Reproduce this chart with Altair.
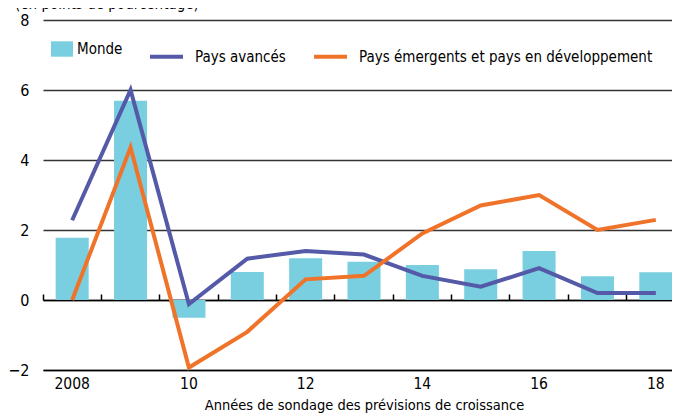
import altair as alt
import pandas as pd

years = ["2008", "2009", "2010", "2011", "2012", "2013", "2014", "2015", "2016", "2017", "2018"]
monde = [1.78, 5.69, -0.51, 0.80, 1.19, 1.09, 1.00, 0.88, 1.40, 0.68, 0.79]
avances = [2.28, 6.0, -0.12, 1.18, 1.40, 1.30, 0.69, 0.38, 0.91, 0.20, 0.20]
emergents = [0.0, 4.36, -1.93, -0.91, 0.59, 0.69, 1.90, 2.70, 3.00, 2.00, 2.29]

bar_series = ["Monde"]
line_series = ["Pays avancés", "Pays émergents et pays en développement"]
bar_color = ["#79CFDF"]
line_colors = ["#5459A8", "#F0732A"]
tick_years = ["2008", "2010", "2012", "2014", "2016", "2018"]

FONT = "DejaVu Sans Condensed"

df_bar = pd.DataFrame({"year": years, "value": monde, "serie": "Monde"})
df_lines = pd.concat([
    pd.DataFrame({"year": years, "value": avances, "serie": line_series[0]}),
    pd.DataFrame({"year": years, "value": emergents, "serie": line_series[1]}),
])

xscale = alt.Scale(type="band", paddingInner=0, paddingOuter=0, domain=years)
yscale = alt.Scale(domain=[-2, 8], nice=False, zero=False)
yaxis = alt.Axis(values=[-2, 0, 2, 4, 6, 8], grid=True, gridColor="#333333", gridWidth=1.3,
                 domain=False, ticks=False, labelPadding=14, labelFontSize=16, title=None)

bars = alt.Chart(df_bar).mark_bar(width={"band": 0.566}).encode(
    x=alt.X("year:O", scale=xscale, axis=alt.Axis(
        orient="bottom", values=tick_years,
        labelExpr="datum.label == '2008' ? '2008' : substring(datum.label, 2, 4)",
        ticks=False, grid=False, labelAngle=0, domainColor="black", domainWidth=1.5,
        labelFontSize=15.5, labelPadding=6, title="Années de sondage des prévisions de croissance",
        titleFontSize=14.5, titleFontWeight="normal", titlePadding=7)),
    y=alt.Y("value:Q", scale=yscale, axis=yaxis),
    fill=alt.Fill("serie:N", scale=alt.Scale(domain=bar_series, range=bar_color),
                  legend=alt.Legend(orient="none", legendX=8, legendY=18, title=None,
                                    symbolType="M-1,-0.7H1V0.7H-1Z", symbolSize=484,
                                    symbolStrokeWidth=0, labelFontSize=15, labelOffset=4,
                                    padding=0)),
)

lines = alt.Chart(df_lines).mark_line(strokeWidth=4).encode(
    x=alt.X("year:O", scale=xscale, axis=alt.Axis(
        orient="top", offset=-280, labels=False, title=None, ticks=True, tickSize=6,
        tickColor="black", tickWidth=1.5, domainColor="black", domainWidth=1.5,
        bandPosition=0, grid=False)),
    y=alt.Y("value:Q", scale=yscale, axis=yaxis),
    stroke=alt.Stroke("serie:N", scale=alt.Scale(domain=line_series, range=line_colors),
                      legend=alt.Legend(orient="none", direction="horizontal", legendX=105,
                                        legendY=18, title=None, symbolType="stroke",
                                        symbolSize=1089, symbolStrokeWidth=4, labelOffset=10,
                                        columnPadding=20, labelFontSize=15, labelLimit=400,
                                        padding=0)),
)

chart = alt.layer(bars, lines).resolve_axis(x="independent").properties(
    width=642, height=350,
    autosize=alt.AutoSizeParams(type="none"),
    padding={"left": 35, "top": 12, "right": -13, "bottom": 43},
    title=alt.TitleParams("(en points de pourcentage)", anchor="start", frame="group",
                          dx=-28, dy=4, offset=4, fontSize=15, fontWeight="normal",
                          color="black", font=FONT),
).configure_view(stroke=None).configure_axis(
    labelFont=FONT, titleFont=FONT, labelColor="black", titleColor="black"
).configure_legend(labelFont=FONT, labelColor="black")

chart.save("out.html", embed_options={"renderer": "svg", "actions": False})
